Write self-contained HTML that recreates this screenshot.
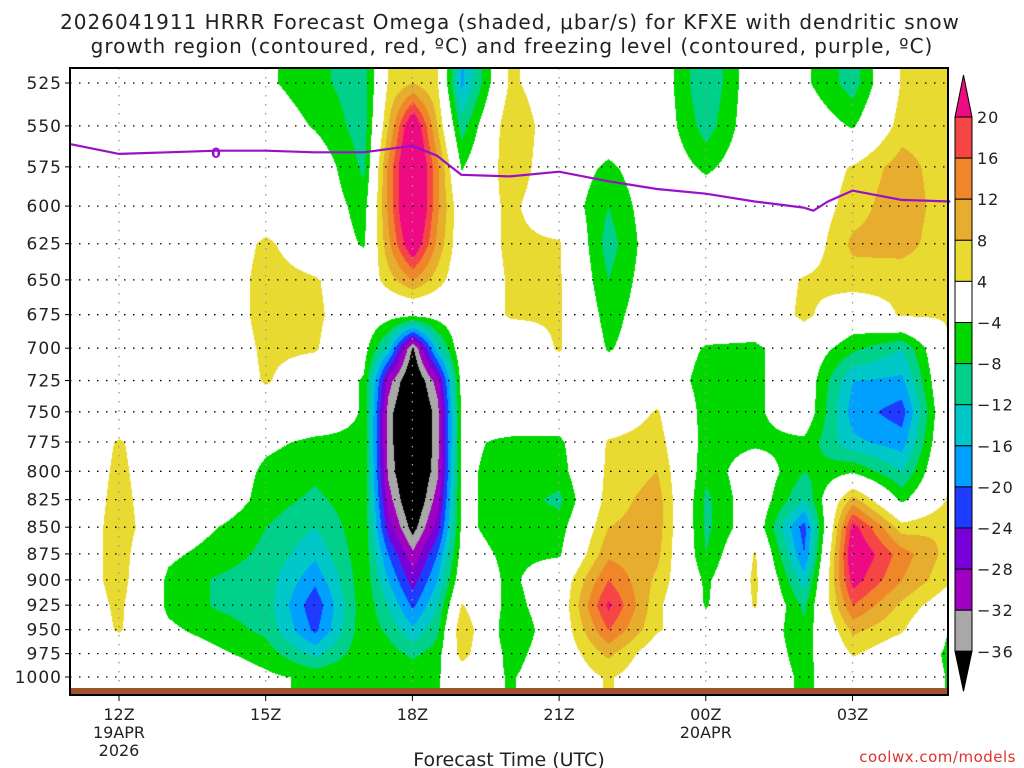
<!DOCTYPE html>
<html><head><meta charset="utf-8"><style>
body{margin:0;width:1024px;height:768px;background:#fff;overflow:hidden;font-family:"DejaVu Sans","Liberation Sans",sans-serif;}
#wrap{position:relative;width:1024px;height:768px;}
svg{position:absolute;left:0;top:0;}
canvas{position:absolute;left:70px;top:68px;}
</style></head><body><div id="wrap">
<canvas id="cv" width="878" height="627"></canvas>
<svg id="sv" width="1024" height="768"></svg>
</div>
<script>
const levels=[525,550,575,600,625,650,675,700,725,750,775,800,825,850,875,900,925,950,975,1000];
const hours=[11,12,13,14,15,16,17,17.5,18,18.5,19,20,21,22,23,24,25,26,27,28,29];
const omega=[
[0,0,0,0,0,0,0,0,0,0,0,0,0,0,0,0,0,0,0,0],
[0,0,0,0,0,0,0,0,0,0,4.5,5,5.5,6,6,6,5,4.5,0,0],
[0,0,0,0,0,0,0,0,0,0,0,0,0,0,-3,-5,-5,-3,0,0],
[0,0,0,0,0,0,0,0,0,0,0,0,0,-4,-6,-8.5,-8.5,-6,-3,0],
[-3,0,0,0,5,6,6,5,4.5,0,-3,-5,-6,-8,-9,-10,-10,-9,-6,-3],
[-7,-4.5,0,0,0,4.5,5,4.5,0,0,-5,-7,-9,-12,-15,-19,-23,-21,-13,-5],
[-10,-10,-9,-6,-4.5,0,0,-2,-4.5,-4.5,-5,-5,-5,-5,-5,-5,-5,-5,-5,-4.5],
[4.5,8,13,13,11,6,-2,-14,-30,-34,-34,-33,-30,-26,-20,-16,-12,-9,-6,-4.5],
[8,26,30,30,25,12,-3,-37,-42,-44,-44,-44,-42,-38,-31,-26,-21,-15,-9,-4],
[4.5,8,13,13,11,6,-2,-14,-30,-34,-34,-33,-30,-26,-20,-16,-12,-9,-6,-4.5],
[-17,-10,-4.5,0,0,0,0,0,-2,-3,-3,-3,-3,-3,-2,0,4.5,8,6,0],
[5,8,7,5,5,4.5,4.5,0,0,0,-5,-6,-6,-6,-5,-5,-6,-8,-6,-4.5],
[0,0,0,0,4.5,4.5,4.5,4.5,0,0,-5,-6,-9,-6,-4.5,0,0,0,0,0],
[0,0,-5,-8,-10,-8,-6,-4.5,0,0,4.5,5,6,8,11,16,21,16,9,4.5],
[0,0,0,0,0,0,0,0,0,4.5,6,8,10,10,9,7,5,4.5,0,0],
[-12,-10,-5,0,0,0,0,-4.5,-6,-6,-6,-7,-9,-9,-8,-5,-4.5,0,0,0],
[0,0,0,0,0,0,0,-5,-5,-5,-5,0,0,0,4.5,5,4.5,0,0,0],
[-3,0,0,0,0,4.5,5,0,0,0,-5,-8,-12,-22,-20,-14,-9,-7,-6,-5],
[-10,-4.5,4.5,6,9,6,0,-7,-16,-18,-15,-4.5,10,22,25,22,16,9,4.5,0],
[4.5,6,10,11,10,5,4.5,-12,-17,-22,-18,-12,-5,6,14,12,7,4.5,0,0],
[5,6,5,5,4.5,4.5,4.5,4.5,4.5,4.5,4.5,4.5,5,8,6,4.5,0,-4.5,-5,-4.5]];
const frzHours=[11,12,13,14,15,16,17,18,18.5,19,20,21,22,23,24,25,26,26.2,26.5,27,28,29];
const frzP=[561,567,566,565,565,566,566,562,568,580,581,578,584,589,592,597,601,603,597,590,596,597];
const tickLevels=levels;
const xTickHours=[12,15,18,21,24,27];
const xTickLabels=["12Z","15Z","18Z","21Z","00Z","03Z"];
const cbBounds=[20,16,12,8,4,-4,-8,-12,-16,-20,-24,-28,-32,-36];
const cbColors=["#F54545","#F0862A","#E6AD2E","#E8DA30","#FFFFFF","#00D800","#00D08A","#00C8C8","#00A0FF","#1E3CFF","#7800D8","#A000C0","#A8A8A8"];
</script>
<script>
const PL=70,PT=68,PR=948,PB=695;
const lnA=Math.log(525),lnB=Math.log(1000);
function xOf(h){return 119+(h-12)*48.9;}
function yOf(p){return 83+(Math.log(p)-lnA)/(lnB-lnA)*594;}
function hOf(x){return 12+(x-119)/48.9;}
function lnpOf(y){return lnA+(y-83)/594*(lnB-lnA);}
function color(v){
 if(v>=20)return[238,10,130];if(v>=16)return[245,69,69];if(v>=12)return[240,134,42];if(v>=8)return[230,173,46];if(v>=4)return[232,218,48];
 if(v>-4)return[255,255,255];if(v>-8)return[0,216,0];if(v>-12)return[0,208,138];if(v>-16)return[0,200,200];if(v>-20)return[0,160,255];
 if(v>-24)return[30,60,255];if(v>-28)return[120,0,216];if(v>-32)return[160,0,192];if(v>-36)return[168,168,168];return[0,0,0];}
const lnL=levels.map(Math.log);
const cv=document.getElementById('cv'),cx=cv.getContext('2d');
const W=cv.width,H=cv.height,img=cx.createImageData(W,H);
const rowInfo=[];
for(let j=0;j<H;j++){let lp=lnpOf(PT+j);let k=0;if(lp<=lnL[0]){rowInfo.push([0,0]);continue;}if(lp>=lnL[19]){rowInfo.push([18,1]);continue;}
 while(lnL[k+1]<lp)k++;rowInfo.push([k,(lp-lnL[k])/(lnL[k+1]-lnL[k])]);}
for(let i=0;i<W;i++){let h=hOf(PL+i);let c=0,t=0;if(h<=hours[0]){c=0;t=0;}else if(h>=hours[hours.length-1]){c=hours.length-2;t=1;}else{while(hours[c+1]<h)c++;t=(h-hours[c])/(hours[c+1]-hours[c]);}
 const A=omega[c],B=omega[c+1];
 for(let j=0;j<H;j++){const[k,s]=rowInfo[j];
  const v=(1-t)*((1-s)*A[k]+s*A[k+1])+t*((1-s)*B[k]+s*B[k+1]);
  const col=color(v),o=(j*W+i)*4;img.data[o]=col[0];img.data[o+1]=col[1];img.data[o+2]=col[2];img.data[o+3]=255;}}
cx.putImageData(img,0,0);
const sv=document.getElementById('sv'),NS='http://www.w3.org/2000/svg';
function mk(tag,attrs,name,txt){const e=document.createElementNS(NS,tag);for(const a in attrs)e.setAttribute(a,attrs[a]);
 
 
 if(txt!==undefined)e.textContent=txt;sv.appendChild(e);return e;}
tickLevels.forEach(p=>{const y=yOf(p);mk('line',{x1:PL,x2:PR,y1:y,y2:y,stroke:'#000','stroke-width':1.3,'stroke-dasharray':'1.5 7.5'},'grid-line-h');
 mk('line',{x1:PL-5,x2:PL,y1:y,y2:y,stroke:'#000','stroke-width':1},'y-tick');
 mk('text',{x:PL-8,y:y+6,'text-anchor':'end','font-size':17,'letter-spacing':1,fill:'#222'},'y-tick-label',String(p));});
xTickHours.forEach((h,i)=>{const x=xOf(h);mk('line',{x1:x,x2:x,y1:PT,y2:PB,stroke:'#999','stroke-width':1.3,'stroke-dasharray':'1.5 7.5'},'grid-line-v');
 mk('line',{x1:x,x2:x,y1:PB,y2:PB+6,stroke:'#000','stroke-width':1},'x-tick');
 mk('text',{x:x,y:720,'text-anchor':'middle','font-size':16,fill:'#222'},'x-tick-label',xTickLabels[i]);});
mk('text',{x:xOf(12),y:738,'text-anchor':'middle','font-size':16,fill:'#222'},'x-date-label','19APR');
mk('text',{x:xOf(12),y:756,'text-anchor':'middle','font-size':16,fill:'#222'},'x-year-label','2026');
mk('text',{x:xOf(24),y:738,'text-anchor':'middle','font-size':16,fill:'#222'},'x-date-label','20APR');
mk('rect',{x:PL,y:688,width:PR-PL,height:7,fill:'#A0522D'},'ground-bar');
let d=frzHours.map((h,i)=>(i?'L':'M')+xOf(h).toFixed(1)+' '+yOf(frzP[i]).toFixed(1)).join(' ');
mk('path',{d:d,fill:'none',stroke:'#9A10C8','stroke-width':2.2},'freezing-level-line');
mk('text',{x:216,y:158,'text-anchor':'middle','font-size':14,'font-weight':'bold',fill:'#9A10C8'},'freezing-level-label','0');
mk('rect',{x:PL,y:PT,width:PR-PL,height:PB-PT,fill:'none',stroke:'#000','stroke-width':2},'plot-frame');
const cbx=955,cbw=17,cby0=117,cbs=41.1;
cbColors.forEach((c,i)=>{mk('rect',{x:cbx,y:cby0+i*cbs,width:cbw,height:cbs,fill:c,stroke:'#000','stroke-width':1},'colorbar-box');});
mk('polygon',{points:`${cbx},${cby0} ${cbx+cbw},${cby0} ${cbx+cbw/2},${cby0-42}`,fill:'#EE0A82',stroke:'#000','stroke-width':1},'colorbar-top-arrow');
const yb=cby0+13*cbs;
mk('polygon',{points:`${cbx},${yb} ${cbx+cbw},${yb} ${cbx+cbw/2},${yb+40}`,fill:'#000',stroke:'#000','stroke-width':1},'colorbar-bottom-arrow');
cbBounds.forEach((b,i)=>{mk('text',{x:977,y:cby0+i*cbs+6,'font-size':16,'letter-spacing':1,fill:'#222'},'colorbar-label',b<0?'\u2212'+(-b):String(b));});
mk('text',{x:510,y:29,'text-anchor':'middle','font-size':20,'letter-spacing':1,fill:'#222'},'chart-title-line1','2026041911 HRRR Forecast Omega (shaded, \u03bcbar/s) for KFXE with dendritic snow');
mk('text',{x:512,y:53,'text-anchor':'middle','font-size':20,'letter-spacing':1,fill:'#222'},'chart-title-line2','growth region (contoured, red, \u00baC) and freezing level (contoured, purple, \u00baC)');
mk('text',{x:509,y:766,'text-anchor':'middle','font-size':19,fill:'#222'},'x-axis-title','Forecast Time (UTC)');
mk('text',{x:1016,y:762,'text-anchor':'end','font-size':15,'letter-spacing':0.5,fill:'#E03030'},'source-credit','coolwx.com/models');
</script></body></html>
